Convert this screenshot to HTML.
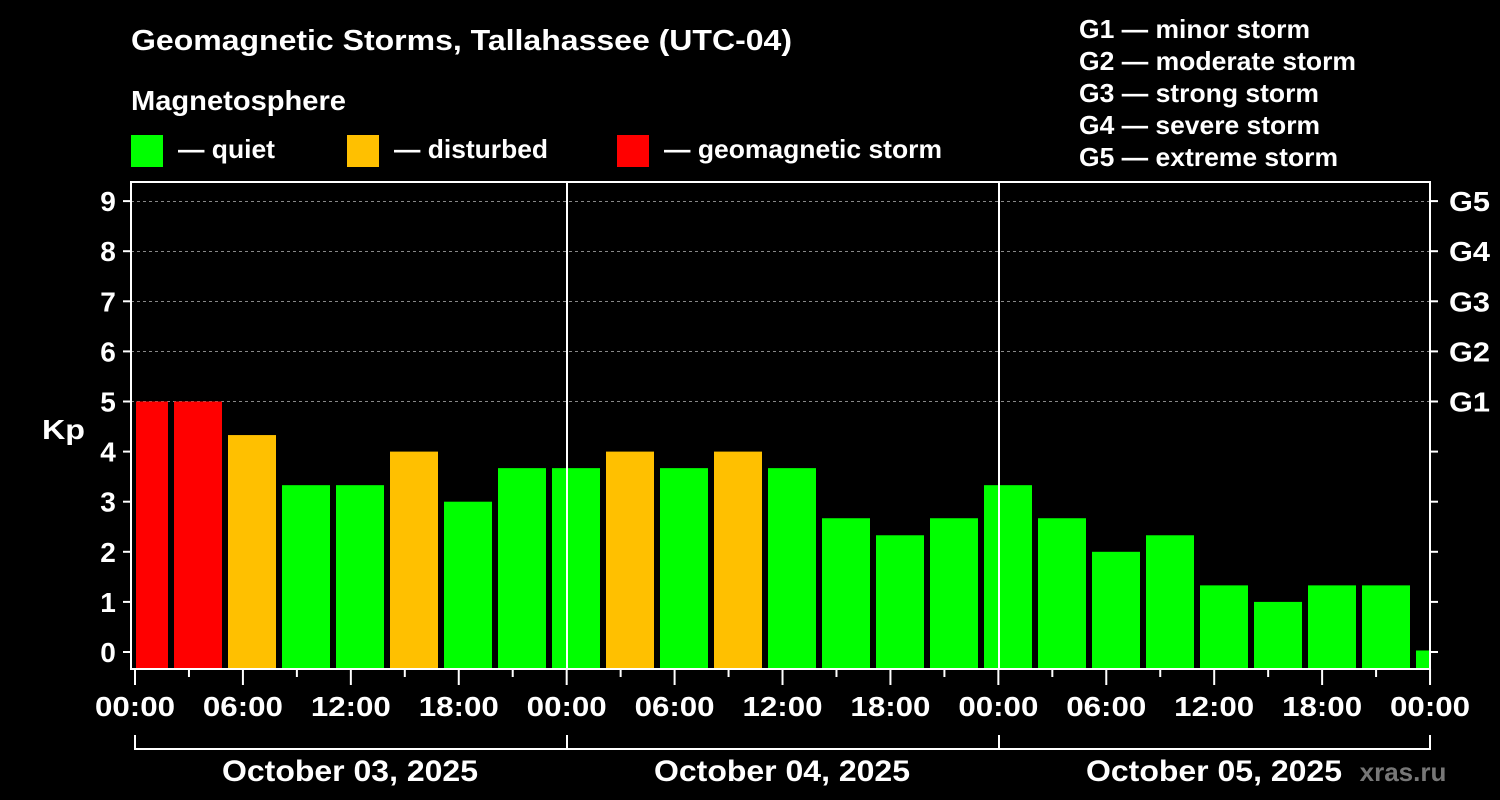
<!DOCTYPE html>
<html><head><meta charset="utf-8"><style>
html,body{margin:0;padding:0;background:#000;}
svg{display:block;font-family:"Liberation Sans",Arial,sans-serif;font-weight:bold;}
</style></head><body>
<svg width="1500" height="800" viewBox="0 0 1500 800" xmlns="http://www.w3.org/2000/svg">
<rect width="1500" height="800" fill="#000"/>
<g fill="#fff" font-size="26">
<text x="131" y="50" font-size="29" textLength="661" lengthAdjust="spacingAndGlyphs">Geomagnetic Storms, Tallahassee (UTC-04)</text>
<text x="131" y="110" font-size="28" textLength="215" lengthAdjust="spacingAndGlyphs">Magnetosphere</text>
<text x="178" y="158" textLength="97" lengthAdjust="spacingAndGlyphs">— quiet</text>
<text x="394" y="158" textLength="154" lengthAdjust="spacingAndGlyphs">— disturbed</text>
<text x="664" y="158" textLength="278" lengthAdjust="spacingAndGlyphs">— geomagnetic storm</text>
<text x="1079" y="38" textLength="231" lengthAdjust="spacingAndGlyphs">G1 — minor storm</text>
<text x="1079" y="70" textLength="277" lengthAdjust="spacingAndGlyphs">G2 — moderate storm</text>
<text x="1079" y="102" textLength="240" lengthAdjust="spacingAndGlyphs">G3 — strong storm</text>
<text x="1079" y="134" textLength="241" lengthAdjust="spacingAndGlyphs">G4 — severe storm</text>
<text x="1079" y="166" textLength="259" lengthAdjust="spacingAndGlyphs">G5 — extreme storm</text>
</g>
<rect x="131" y="135" width="32" height="32" fill="#00ff00"/>
<rect x="347" y="135" width="32" height="32" fill="#ffc000"/>
<rect x="617" y="135" width="32" height="32" fill="#ff0000"/>
<g stroke="#888" stroke-dasharray="3,3" stroke-width="1">
<line x1="131" x2="1430" y1="201.5" y2="201.5"/>
<line x1="131" x2="1430" y1="251.5" y2="251.5"/>
<line x1="131" x2="1430" y1="301.5" y2="301.5"/>
<line x1="131" x2="1430" y1="351.5" y2="351.5"/>
<line x1="131" x2="1430" y1="401.5" y2="401.5"/>
</g>
<svg x="131" y="182" width="1299" height="487" viewBox="131 182 1299 487">
<g id="bb"></g>
</svg>
<g stroke="#fff" stroke-width="2">
<line x1="567" y1="182" x2="567" y2="669"/>
<line x1="999" y1="182" x2="999" y2="669"/>
<rect x="131" y="182" width="1299" height="487" fill="none"/>
</g>
<g id="ticks" stroke="#fff" stroke-width="2"></g>
<g fill="#fff" font-size="28" id="labels"></g>
<g fill="#fff" font-size="30">
<text x="350" y="781" text-anchor="middle" textLength="256" lengthAdjust="spacingAndGlyphs">October 03, 2025</text>
<text x="782" y="781" text-anchor="middle" textLength="256" lengthAdjust="spacingAndGlyphs">October 04, 2025</text>
<text x="1214" y="781" text-anchor="middle" textLength="256" lengthAdjust="spacingAndGlyphs">October 05, 2025</text>
<text x="42" y="439" font-size="28" textLength="43" lengthAdjust="spacingAndGlyphs">Kp</text>
</g>
<text x="1403" y="781" fill="#777" font-size="26" text-anchor="middle">xras.ru</text>
<script>
var ns="http://www.w3.org/2000/svg";
function el(p,t,a,txt){var e=document.createElementNS(ns,t);for(var k in a)e.setAttribute(k,a[k]);if(txt!==undefined)e.textContent=txt;p.appendChild(e);return e;}
var v=[5,5,4.33,3.33,3.33,4,3,3.67,3.67,4,3.67,4,3.67,2.67,2.33,2.67,3.33,2.67,2,2.33,1.33,1,1.33,1.33,0.03];
var bb=document.getElementById("bb");
v.forEach(function(k,i){var c=k>=5?"#ff0000":(k>=4?"#ffc000":"#00ff00");var x=120+54*i;var top=652-50.1*k;if(i==0)x=136;var w=(i==0)?32:48;
el(bb,"rect",{x:x,y:top,width:w,height:669-top,fill:c});});
var t=document.getElementById("ticks"),L=document.getElementById("labels");
for(var k=0;k<=9;k++){var y=652-50.1*k;el(t,"line",{x1:123,x2:131,y1:y,y2:y});el(t,"line",{x1:1430,x2:1438,y1:y,y2:y});
el(L,"text",{x:108,y:y+10,"text-anchor":"middle"},k);}
["G1","G2","G3","G4","G5"].forEach(function(g,i){el(L,"text",{x:1449,y:652-50.1*(5+i)+10,textLength:41,lengthAdjust:"spacingAndGlyphs"},g);});
for(var i=0;i<=24;i++){var x=135+i*53.96;el(t,"line",{x1:x,x2:x,y1:669,y2:i%2==0?685:677});
if(i%2==0){var h=(i*3)%24;el(L,"text",{x:x,y:716,"text-anchor":"middle",textLength:80,lengthAdjust:"spacingAndGlyphs"},(h<10?"0":"")+h+":00");}}
el(t,"polyline",{points:"135,735 135,749 1430,749 1430,735",fill:"none"});
el(t,"line",{x1:567,x2:567,y1:735,y2:749});el(t,"line",{x1:999,x2:999,y1:735,y2:749});
</script>
</svg>
</body></html>
